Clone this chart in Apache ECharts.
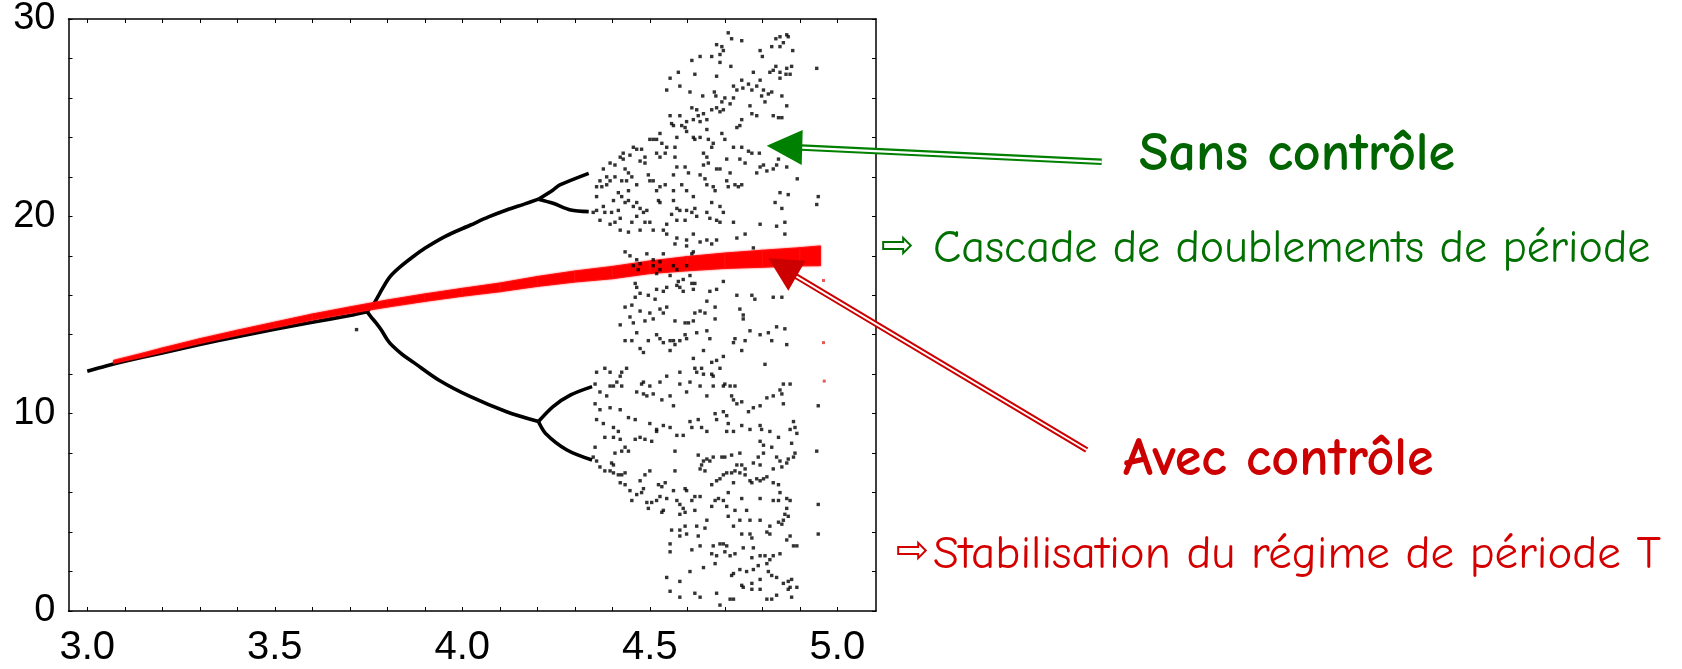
<!DOCTYPE html>
<html>
<head>
<meta charset="utf-8">
<script src="https://cdn.jsdelivr.net/npm/echarts@6/dist/echarts.min.js"></script>
<style>
  html, body { margin: 0; padding: 0; background: #ffffff; }
  #chart { width: 1682px; height: 669px; }
</style>
</head>
<body>
<div id="chart"></div>
<script>
// ---- axis ticks and labels ----
const xTickValues = [3.0, 3.1, 3.2, 3.3, 3.4, 3.5, 3.6, 3.7, 3.8, 3.9, 4.0, 4.1, 4.2, 4.3, 4.4, 4.5, 4.6, 4.7, 4.8, 4.9, 5.0];
const xLabelValues = [3.0, 3.5, 4.0, 4.5, 5.0];
const yTickValues = [0, 2, 4, 6, 8, 10, 12, 14, 16, 18, 20, 22, 24, 26, 28, 30];
const yLabelValues = [0, 10, 20, 30];

// ---- uncontrolled system: periodic branches (period 1, 2, 4) ----
const branchStem = [[3.0, 12.15], [3.05, 12.42], [3.1, 12.66], [3.2, 13.08], [3.3, 13.5], [3.4, 13.9], [3.5, 14.28], [3.6, 14.63], [3.7, 14.98], [3.746, 15.17]];
const branchUpper = [[3.746, 15.17], [3.765, 15.6], [3.78, 16.1], [3.795, 16.6], [3.81, 17.0], [3.835, 17.45], [3.865, 17.9], [3.9, 18.38], [3.956, 19.0], [4.022, 19.56], [4.07, 19.97], [4.118, 20.32], [4.165, 20.62], [4.203, 20.87]];
const branchLower = [[3.746, 15.17], [3.756, 14.92], [3.77, 14.6], [3.784, 14.24], [3.8, 13.75], [3.813, 13.45], [3.84, 13.0], [3.87, 12.6], [3.937, 11.71], [4.022, 10.86], [4.118, 10.1], [4.203, 9.6]];
const branchUpperUp = [[4.203, 20.87], [4.242, 21.34], [4.26, 21.59], [4.337, 22.18]];
const branchUpperDown = [[4.203, 20.87], [4.242, 20.66], [4.289, 20.32], [4.337, 20.24]];
const branchLowerUp = [[4.203, 9.6], [4.242, 10.36], [4.289, 10.95], [4.346, 11.37]];
const branchLowerDown = [[4.203, 9.6], [4.222, 9.0], [4.279, 8.16], [4.346, 7.65]];
const strayPoints = [[3.718, 14.26]];

// ---- uncontrolled system: chaotic regime ----
const chaosTop = [
[4.709,29.3],[4.718,29.0],[4.745,28.9],[4.678,28.7],[4.692,28.6],[4.696,28.4],[4.687,28.2],[4.634,28.1],[4.612,27.9],[4.665,28.1],
[4.687,27.8],[4.716,27.6],[4.794,28.4],[4.800,28.1],[4.825,28.6],[4.847,28.6],[4.836,29.0],[4.847,29.1],[4.865,29.2],[4.869,29.1],
[4.856,28.8],[4.881,28.4],[4.878,27.6],[4.865,27.5],[4.874,27.2],[4.863,27.2],[4.847,27.3],[4.836,27.6],[4.829,27.4],[4.820,27.3],
[4.847,27.0],[4.776,27.3],[4.745,26.9],[4.794,26.9],[4.785,26.6],[4.763,26.7],[4.772,26.4],[4.748,26.5],[4.732,26.4],[4.723,26.6],
[4.678,27.1],[4.620,27.2],[4.576,27.3],[4.554,27.0],[4.580,26.6],[4.545,26.4],[4.607,26.3],[4.641,26.1],[4.672,26.3],[4.676,26.1],
[4.700,26.0],[4.714,25.7],[4.723,26.0],[4.692,25.8],[4.678,25.5],[4.665,25.4],[4.687,25.3],[4.696,25.4],[4.643,25.2],[4.625,25.4],
[4.612,25.5],[4.629,25.1],[4.652,24.9],[4.634,24.8],[4.616,24.9],[4.598,24.8],[4.580,25.1],[4.554,25.1],[4.558,24.7],[4.563,24.6],
[4.585,24.6],[4.594,24.5],[4.572,24.0],[4.598,24.3],[4.616,24.0],[4.620,23.9],[4.634,24.0],[4.652,24.4],[4.656,23.9],[4.669,23.7],
[4.665,23.5],[4.692,24.2],[4.700,23.9],[4.723,23.5],[4.745,23.5],[4.763,23.3],[4.772,23.2],[4.792,23.2],[4.740,22.9],[4.754,22.7],
[4.740,24.6],[4.732,24.5],[4.745,24.9],[4.767,25.6],[4.772,25.2],[4.785,25.1],[4.798,26.1],[4.807,25.8],[4.816,26.2],[4.825,26.3],
[4.803,26.4],[4.852,26.1],[4.865,25.6],[4.829,25.1],[4.843,25.0],[4.852,25.0],[4.794,22.5],[4.803,22.6],[4.785,22.2],[4.812,22.3],
[4.829,22.4],[4.838,22.6],[4.843,22.9],[4.865,22.5],[4.893,21.9],[4.847,21.2],[4.869,21.1],[4.834,20.7],[4.852,20.4],[4.860,19.7],
[4.860,19.1],[4.838,19.5],[4.794,19.6],[4.754,19.1],[4.732,18.9],[4.776,18.4],[4.705,21.8],[4.727,21.6],[4.736,21.5],[4.745,21.6],
[4.714,22.2],[4.705,22.9],[4.687,22.4],[4.678,22.4],[4.669,21.5],[4.674,21.3],[4.665,20.7],[4.687,20.5],[4.696,20.2],[4.709,21.5],
[4.643,23.2],[4.652,23.0],[4.656,22.7],[4.643,22.6],[4.634,22.1],[4.647,21.9],[4.652,21.6],[4.616,21.0],[4.620,20.4],[4.612,20.2],
[4.625,20.0],[4.652,20.2],[4.660,19.9],[4.678,19.8],[4.687,19.7],[4.723,19.7],[4.678,18.8],[4.665,18.6],[4.652,18.8],[4.634,18.7],
[4.598,18.8],[4.616,19.1],[4.572,18.9],[4.567,18.6],[4.598,18.5],[4.545,19.1],[4.536,19.3],[4.509,19.3],[4.474,19.3],[4.487,19.7],
[4.500,19.7],[4.483,20.2],[4.465,20.0],[4.456,20.5],[4.434,20.7],[4.425,21.0],[4.416,20.3],[4.443,20.8],[4.416,21.2],[4.403,20.8],
[4.376,20.5],[4.380,20.2],[4.398,20.2],[4.407,19.7],[4.394,19.6],[4.367,19.8],[4.421,19.9],[4.452,19.7],[4.421,19.3],[4.443,19.2],
[4.523,20.8],[4.527,20.7],[4.518,21.3],[4.527,21.5],[4.541,21.6],[4.500,21.8],[4.509,21.8],[4.496,22.1],[4.465,21.6],[4.452,22.0],
[4.443,22.2],[4.434,22.4],[4.429,22.9],[4.447,23.1],[4.456,23.5],[4.465,23.4],[4.478,23.4],[4.487,23.0],[4.474,22.8],[4.487,22.7],
[4.500,23.9],[4.509,23.9],[4.518,23.9],[4.532,23.7],[4.545,23.5],[4.527,24.2],[4.541,23.2],[4.567,23.5],[4.567,23.0],[4.572,22.5],
[4.594,22.5],[4.603,22.2],[4.563,22.1],[4.585,21.6],[4.598,21.3],[4.563,21.3],[4.563,20.8],[4.572,20.4],[4.580,20.3],[4.598,20.3],
[4.558,20.1],[4.572,19.8],[4.594,19.8],[4.545,19.6],[4.429,23.2],[4.421,23.0],[4.407,22.6],[4.394,22.7],[4.376,22.4],[4.385,22.0],
[4.367,21.8],[4.372,21.5],[4.385,21.6],[4.358,21.5],[4.358,21.0],[4.358,20.3],[4.349,20.2],[4.394,21.8],[4.407,22.0],[4.425,21.8],
[4.438,21.8],[4.443,21.3],[4.465,20.7],[4.474,20.4],[4.492,20.3],[4.518,23.2],[4.527,23.0]
];
const chaosMiddle = [
[4.434,18.2],[4.447,18.0],[4.465,17.8],[4.492,18.1],[4.509,17.8],[4.536,18.1],[4.527,17.7],[4.616,18.2],[4.612,18.1],
[4.456,17.5],[4.474,17.6],[4.469,17.3],[4.509,17.5],[4.518,17.1],[4.527,17.3],[4.563,17.5],[4.572,17.3],[4.598,17.5],[4.607,17.0],
[4.589,16.8],[4.576,16.7],[4.554,17.0],[4.461,16.6],[4.465,16.4],[4.474,16.1],[4.461,15.9],[4.496,16.0],[4.518,16.3],[4.536,16.2],
[4.545,16.4],[4.514,15.8],[4.580,16.4],[4.589,16.2],[4.612,16.6],[4.620,16.6],[4.616,16.3],[4.572,16.5],[4.660,16.2],[4.678,16.3],
[4.696,16.7],[4.652,15.7],[4.732,16.0],[4.772,16.0],[4.780,15.8],[4.829,15.9],[4.852,15.9],[4.740,15.3],[4.749,14.8],[4.674,15.4],
[4.674,14.8],[4.634,15.2],[4.620,15.1],[4.647,15.1],[4.616,14.7],[4.603,14.6],[4.594,14.6],[4.567,14.7],[4.527,15.3],[4.536,15.1],
[4.545,15.4],[4.500,15.1],[4.509,14.8],[4.487,14.7],[4.474,15.2],[4.452,15.5],[4.434,15.4],[4.447,14.9],[4.456,14.6],[4.421,14.5],
[4.465,14.1],[4.452,13.7],[4.434,13.7],[4.474,13.3],[4.483,13.1],[4.496,13.7],[4.518,14.0],[4.527,13.8],[4.536,13.6],[4.554,13.7],
[4.563,13.7],[4.580,13.7],[4.567,13.5],[4.554,13.2],[4.594,14.0],[4.598,13.8],[4.625,14.1],[4.652,14.2],[4.660,13.8],[4.643,13.2],
[4.678,12.7],[4.696,12.9],[4.665,12.6],[4.616,12.8],[4.620,12.3],[4.625,12.1],[4.607,11.6],[4.580,12.1],[4.580,11.5],[4.598,11.1],
[4.634,11.4],[4.652,10.9],[4.629,9.7],[4.612,9.3],[4.638,9.3],[4.652,9.1],[4.674,10.0],[4.678,9.7],[4.696,10.1],[4.705,9.9],
[4.709,9.5],[4.705,9.1],[4.723,9.1],[4.745,9.4],[4.767,9.2],[4.794,9.4],[4.798,9.2],[4.820,9.1],[4.843,8.8],[4.794,8.6],
[4.803,8.4],[4.825,8.3],[4.883,9.6],[4.887,9.3],[4.892,9.0],[4.874,9.2],[4.878,8.5],[4.856,10.5],[4.874,11.5],[4.856,11.5],
[4.847,11.2],[4.852,11.0],[4.829,10.9],[4.812,10.8],[4.794,10.4],[4.776,10.3],[4.763,10.1],[4.745,10.6],[4.732,10.5],[4.723,10.7],
[4.718,10.9],[4.727,11.4],[4.714,11.4],[4.700,11.5],[4.696,11.4],[4.669,11.9],[4.669,11.4],[4.665,12.0],[4.643,12.0],[4.638,12.3],
[4.687,12.3],[4.727,13.8],[4.754,13.7],[4.767,14.2],[4.794,14.0],[4.816,14.1],[4.825,13.7],[4.838,14.4],[4.860,14.3],[4.865,13.5],
[4.807,12.5],[4.745,13.2],[4.723,13.6],[4.749,15.0],[4.438,12.3],[4.425,12.1],[4.394,12.1],[4.380,12.3],[4.358,12.1],[4.354,11.5],
[4.367,11.1],[4.394,11.4],[4.403,11.4],[4.412,11.6],[4.421,11.9],[4.425,11.4],[4.465,11.1],[4.483,11.6],[4.478,11.5],[4.483,11.0],
[4.492,10.9],[4.500,11.4],[4.509,11.0],[4.527,11.6],[4.545,11.9],[4.554,10.9],[4.563,10.4],[4.532,10.7],[4.536,9.4],[4.518,9.2],
[4.500,9.5],[4.461,9.7],[4.443,9.8],[4.421,10.2],[4.394,10.3],[4.385,10.9],[4.367,10.2],[4.354,10.5],[4.358,9.7],[4.376,9.5],
[4.403,9.3],[4.416,9.1],[4.421,8.7],[4.403,8.8],[4.380,8.8],[4.354,8.3],[4.434,8.3],[4.461,8.7],[4.474,8.8],[4.487,8.7],
[4.505,8.6],[4.518,9.1],[4.554,9.3],[4.572,8.9],[4.589,8.9],[4.607,9.6]
];
const chaosBottom = [
[4.349,7.8],[4.358,7.6],[4.367,7.3],[4.380,7.1],[4.394,7.1],[4.403,7.0],[4.416,6.9],[4.425,6.9],[4.434,7.0],[4.398,7.5],
[4.403,7.4],[4.407,8.0],[4.425,8.1],[4.443,8.1],[4.421,6.5],[4.434,6.4],[4.447,6.1],[4.452,5.6],[4.465,5.9],[4.478,6.0],
[4.483,6.2],[4.474,6.6],[4.487,6.9],[4.500,7.1],[4.492,5.5],[4.496,5.2],[4.505,5.5],[4.518,5.6],[4.527,5.8],[4.545,5.7],
[4.523,6.4],[4.532,6.3],[4.541,6.5],[4.563,6.1],[4.572,5.6],[4.580,5.4],[4.589,5.2],[4.594,5.0],[4.580,4.9],[4.536,5.1],
[4.532,5.0],[4.594,6.2],[4.598,6.1],[4.612,5.6],[4.620,5.8],[4.634,5.8],[4.620,5.1],[4.625,4.3],[4.647,4.2],[4.652,4.6],
[4.665,5.3],[4.665,6.4],[4.678,6.6],[4.687,6.7],[4.696,6.9],[4.705,7.0],[4.718,7.0],[4.727,7.1],[4.740,7.0],[4.754,6.9],
[4.767,6.6],[4.772,6.5],[4.785,6.7],[4.794,6.6],[4.803,6.7],[4.812,6.8],[4.829,6.5],[4.843,6.4],[4.847,6.0],[4.829,5.6],
[4.843,5.6],[4.865,5.7],[4.874,5.6],[4.865,5.2],[4.860,4.9],[4.869,4.8],[4.856,4.6],[4.843,4.5],[4.820,4.3],[4.812,4.0],
[4.820,3.9],[4.852,4.4],[4.874,3.8],[4.883,3.3],[4.892,3.3],[4.865,3.6],[4.847,2.9],[4.829,2.8],[4.820,2.6],[4.812,2.4],
[4.794,2.8],[4.807,2.8],[4.789,2.3],[4.776,2.1],[4.758,2.0],[4.740,2.1],[4.723,1.9],[4.718,1.8],[4.745,1.3],[4.749,1.2],
[4.772,1.4],[4.794,1.6],[4.816,2.0],[4.825,1.8],[4.838,1.7],[4.856,1.4],[4.869,1.5],[4.878,1.6],[4.874,1.2],[4.892,1.2],
[4.869,1.1],[4.878,0.7],[4.838,0.8],[4.825,0.6],[4.812,0.6],[4.772,1.1],[4.794,1.1],[4.723,0.6],[4.714,0.6],[4.687,0.3],
[4.678,0.9],[4.620,0.9],[4.580,0.7],[4.554,1.0],[4.545,1.7],[4.580,1.5],[4.607,2.0],[4.643,2.2],[4.674,2.4],[4.678,2.8],
[4.687,3.4],[4.696,3.4],[4.705,3.3],[4.700,3.0],[4.714,2.8],[4.727,2.9],[4.749,3.2],[4.776,3.2],[4.772,2.7],[4.745,3.9],
[4.767,3.9],[4.772,3.7],[4.794,4.6],[4.767,4.6],[4.740,4.6],[4.723,4.3],[4.727,5.1],[4.705,5.3],[4.709,4.8],[4.696,5.6],
[4.683,5.7],[4.674,5.6],[4.709,6.0],[4.723,6.5],[4.745,5.7],[4.758,5.1],[4.794,5.7],[4.829,7.2],[4.852,7.3],[4.865,7.5],
[4.869,7.7],[4.883,7.8],[4.887,8.0],[4.847,7.6],[4.838,7.8],[4.794,7.4],[4.789,7.8],[4.803,8.0],[4.776,7.5],[4.754,7.2],
[4.745,7.4],[4.732,7.4],[4.740,8.0],[4.718,7.9],[4.700,7.8],[4.692,7.8],[4.669,7.8],[4.652,7.7],[4.643,7.6],[4.638,7.4],
[4.634,7.2],[4.647,7.1],[4.660,7.6],[4.629,7.9],[4.567,7.1],[4.567,8.1],[4.554,3.0],[4.554,3.4],[4.558,4.1],[4.580,4.1],
[4.594,4.3],[4.598,3.9],[4.580,3.8],[4.629,3.8],[4.634,3.3],[4.612,3.1],[4.669,3.3],[4.665,2.9],[4.634,0.7]
];
const chaosEdge = [[4.945, 27.5], [4.949, 21.0], [4.945, 20.6], [4.949, 10.4], [4.945, 8.1], [4.949, 5.4], [4.949, 3.9]];

// ---- controlled system: stabilised period-T band ----
const controlX    = [3.07, 3.15, 3.2, 3.3, 3.4, 3.5, 3.6, 3.7, 3.8, 3.9, 4.0, 4.1, 4.2, 4.3, 4.4, 4.5, 4.6, 4.7, 4.8, 4.9, 4.955];
const controlLow  = [12.55, 12.88, 13.11, 13.56, 13.97, 14.36, 14.75, 15.09, 15.40, 15.69, 15.95, 16.18, 16.45, 16.67, 16.84, 17.10, 17.24, 17.36, 17.42, 17.49, 17.50];
const controlHigh = [12.70, 13.08, 13.33, 13.80, 14.23, 14.64, 15.05, 15.41, 15.76, 16.07, 16.35, 16.62, 16.95, 17.23, 17.46, 17.74, 17.96, 18.14, 18.28, 18.41, 18.50];
const controlStray = [[4.963, 16.75], [4.963, 13.6], [4.965, 11.65]];

const controlBand = controlX.map((x, i) => [x, controlLow[i], controlHigh[i]]);
const chaosAll = chaosTop.concat(chaosMiddle, chaosBottom, chaosEdge, strayPoints);

const axisFont = '"Liberation Sans", Arial, Helvetica, sans-serif';
const noteFont = '"Comic Sans MS", "Comic Neue", "Noto Sans", sans-serif';

function xAxisDef(position, withLabels) {
  return {
    type: 'value', position: position, min: 2.95, max: 5.103,
    axisLine: { show: true, onZero: false, lineStyle: { color: '#000', width: 1.5 } },
    splitLine: { show: false },
    axisTick: { show: true, inside: true, length: 4, customValues: xTickValues, lineStyle: { color: '#000', width: 1 } },
    axisLabel: withLabels ? {
      show: true, customValues: xLabelValues, formatter: v => Number(v).toFixed(1),
      fontFamily: axisFont, fontSize: 40, color: '#000', margin: 17
    } : { show: false }
  };
}
function yAxisDef(position, withLabels) {
  return {
    type: 'value', position: position, min: 0, max: 30,
    axisLine: { show: true, onZero: false, lineStyle: { color: '#000', width: 1.5 } },
    splitLine: { show: false },
    axisTick: { show: true, inside: true, length: 4, customValues: yTickValues, lineStyle: { color: '#000', width: 1 } },
    axisLabel: withLabels ? {
      show: true, customValues: yLabelValues,
      fontFamily: axisFont, fontSize: 38, color: '#000', margin: 13,
      padding: [12, 0, 0, 0]
    } : { show: false }
  };
}

function branchSeries(data) {
  return {
    type: 'line', data: data, symbol: 'none', smooth: 0.3, silent: true, z: 2,
    lineStyle: { color: '#000', width: 3.6 }
  };
}

const chart = echarts.init(document.getElementById('chart'), null, { renderer: 'canvas' });

chart.setOption({
  backgroundColor: '#ffffff',
  animation: false,
  grid: { left: 68.5, top: 19, width: 807.5, height: 592, containLabel: false },
  xAxis: [xAxisDef('bottom', true), xAxisDef('top', false)],
  yAxis: [yAxisDef('left', true), yAxisDef('right', false)],
  series: [
    branchSeries(branchStem),
    branchSeries(branchUpper),
    branchSeries(branchLower),
    branchSeries(branchUpperUp),
    branchSeries(branchUpperDown),
    branchSeries(branchLowerUp),
    branchSeries(branchLowerDown),
    {
      // controlled orbit: filled band between low and high envelopes
      type: 'custom', silent: true, z: 3,
      data: controlBand,
      renderItem: function (params, api) {
        const i = params.dataIndex;
        if (i >= controlBand.length - 1) return null;
        const a = api.coord([api.value(0, i), api.value(2, i)]);
        const b = api.coord([api.value(0, i + 1), api.value(2, i + 1)]);
        const c = api.coord([api.value(0, i + 1), api.value(1, i + 1)]);
        const d = api.coord([api.value(0, i), api.value(1, i)]);
        return {
          type: 'polygon',
          shape: { points: [a, b, c, d] },
          style: { fill: '#ff0000', stroke: '#ff1010', lineWidth: 1, shadowBlur: 2, shadowColor: 'rgba(255,0,0,0.6)' }
        };
      }
    },
    {
      type: 'scatter', data: chaosAll, symbol: 'rect', symbolSize: 3.4, silent: true, z: 4,
      itemStyle: { color: '#000' }
    },
    {
      type: 'scatter', data: controlStray, symbol: 'rect', symbolSize: 3, silent: true, z: 4,
      itemStyle: { color: '#e03030' }
    }
  ],
  graphic: {
    elements: [
      // green double-shaft arrow pointing at the chaotic cloud
      { type: 'line', z: 100, shape: { x1: 1101.7, y1: 161.8, x2: 796, y2: 147.3 }, style: { stroke: '#008000', lineWidth: 6.5 } },
      { type: 'line', z: 101, shape: { x1: 1101.7, y1: 161.8, x2: 796, y2: 147.3 }, style: { stroke: '#ffffff', lineWidth: 2.2 } },
      { type: 'polygon', z: 102, shape: { points: [[766.7, 145.7], [802.7, 130], [801.7, 165]] }, style: { fill: '#008000' } },
      // red double-shaft arrow pointing at the controlled band
      { type: 'line', z: 100, shape: { x1: 1086.7, y1: 450, x2: 792, y2: 273.8 }, style: { stroke: '#cc0000', lineWidth: 6 } },
      { type: 'line', z: 101, shape: { x1: 1086.7, y1: 450, x2: 792, y2: 273.8 }, style: { stroke: '#ffffff', lineWidth: 2 } },
      { type: 'polygon', z: 102, shape: { points: [[768.3, 258.3], [805.5, 260.7], [788.3, 290.7]] }, style: { fill: '#cc0000' } },
      // annotations
      { type: 'text', z: 110, x: 1139, y: 155,
        style: { text: 'Sans contrôle', fill: '#006400', font: 'bold 54px ' + noteFont, align: 'left', verticalAlign: 'middle', textAlign: 'left', textVerticalAlign: 'middle' } },
      { type: 'text', z: 110, x: 881, y: 248,
        style: { text: '⇨', fill: '#007000', font: '40px "DejaVu Sans", sans-serif', align: 'left', verticalAlign: 'middle', textAlign: 'left', textVerticalAlign: 'middle' } },
      { type: 'text', z: 110, x: 933, y: 249,
        style: { text: 'Cascade de doublements de période', fill: '#007000', font: '46px ' + noteFont, align: 'left', verticalAlign: 'middle', textAlign: 'left', textVerticalAlign: 'middle' } },
      { type: 'text', z: 110, x: 1123, y: 460,
        style: { text: 'Avec contrôle', fill: '#cc0000', font: 'bold 54px ' + noteFont, align: 'left', verticalAlign: 'middle', textAlign: 'left', textVerticalAlign: 'middle' } },
      { type: 'text', z: 110, x: 896, y: 553,
        style: { text: '⇨', fill: '#d40000', font: '40px "DejaVu Sans", sans-serif', align: 'left', verticalAlign: 'middle', textAlign: 'left', textVerticalAlign: 'middle' } },
      { type: 'text', z: 110, x: 933, y: 555,
        style: { text: 'Stabilisation du régime de période T', fill: '#d40000', font: '47px ' + noteFont, align: 'left', verticalAlign: 'middle', textAlign: 'left', textVerticalAlign: 'middle' } }
    ]
  }
});
</script>
</body>
</html>
